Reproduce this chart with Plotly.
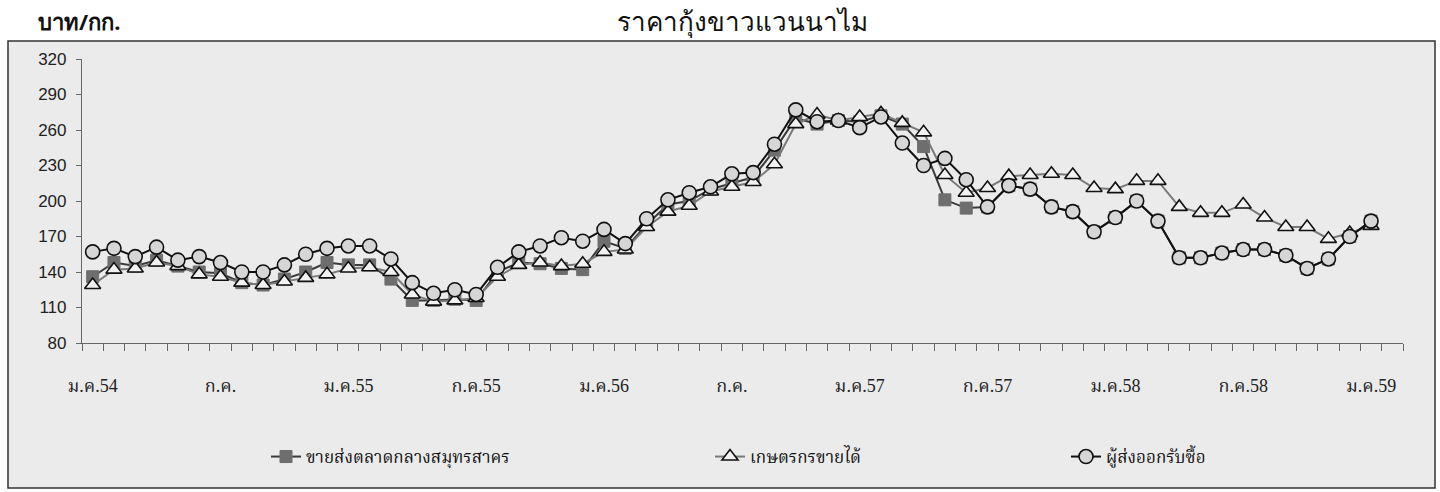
import plotly.graph_objects as go

# ---------------- data ----------------
thai_months = ["ม.ค.", "ก.พ.", "มี.ค.", "เม.ย.", "พ.ค.", "มิ.ย.",
               "ก.ค.", "ส.ค.", "ก.ย.", "ต.ค.", "พ.ย.", "ธ.ค."]
years = ["54", "55", "56", "57", "58", "59"]
months = [m + y for y in years for m in thai_months][:62]  # ม.ค.54 .. ก.พ.59

tick_labels = ["ม.ค.54", "ก.ค.", "ม.ค.55", "ก.ค.55", "ม.ค.56", "ก.ค.",
               "ม.ค.57", "ก.ค.57", "ม.ค.58", "ก.ค.58", "ม.ค.59"]

wholesale = [136, 148, 145, 150, 145, 140, 139, 131, 129, 134, 140, 148,
             146, 146, 134, 116, 116, 117, 116, 140, 148, 147, 143, 142,
             166, 160, 180, 197, 200, 210, 215, 220, 243, 270, 265, 268,
             267, 272, 265, 246, 201, 194, 195, 213, 210, 195, 191, 174,
             186, 200, 183, 152, 152, 156, 159, 159, 154, 143, 151, 170,
             183]

farmer = [129, 142, 143, 148, 145, 138, 136, 131, 129, 132, 135, 138,
          143, 144, 140, 121, 115, 116, 118, 136, 146, 148, 145, 147,
          157, 159, 178, 191, 196, 208, 212, 216, 231, 265, 273, 268,
          271, 274, 266, 258, 222, 207, 211, 221, 222, 223, 222, 211,
          210, 217, 217, 195, 190, 190, 197, 186, 178, 178, 168, 173,
          179]

exporter = [157, 160, 153, 161, 150, 153, 148, 140, 140, 146, 155, 160,
            162, 162, 151, 131, 122, 125, 121, 144, 157, 162, 169, 166,
            176, 164, 185, 201, 207, 212, 223, 224, 248, 277, 267, 268,
            262, 271, 249, 230, 236, 218, 195, 213, 210, 195, 191, 174,
            186, 200, 183, 152, 152, 156, 159, 159, 154, 143, 151, 170,
            183]

series_names = ["ขายส่งตลาดกลางสมุทรสาคร", "เกษตรกรขายได้", "ผู้ส่งออกรับซื้อ"]
y_ticks = [80, 110, 140, 170, 200, 230, 260, 290, 320]

# ---------------- figure ----------------
thai_font = "Liberation Serif, Noto Serif Thai, Tlwg Typo, serif"
x_data = months[:len(exporter)]

fig = go.Figure()
fig.add_trace(go.Scatter(
    x=x_data, y=wholesale, name=series_names[0], mode="lines+markers",
    line=dict(color="#3a3a3a", width=2),
    marker=dict(symbol="square", size=12, color="#6e6e6e",
                line=dict(color="#6e6e6e", width=1)),
    legend="legend"))
fig.add_trace(go.Scatter(
    x=x_data, y=farmer, name=series_names[1], mode="lines+markers",
    line=dict(color="#7a7a7a", width=2),
    marker=dict(symbol="triangle-up", size=14, color="#f2f2f2",
                line=dict(color="#111111", width=1.6)),
    legend="legend2"))
fig.add_trace(go.Scatter(
    x=x_data, y=exporter, name=series_names[2], mode="lines+markers",
    line=dict(color="#111111", width=2),
    marker=dict(symbol="circle", size=14, color="#d6d6d6",
                line=dict(color="#111111", width=1.6)),
    legend="legend3"))

tickvals = months
ticktext = ["" for _ in months]
label_positions = list(range(0, 61, 6))
for k, pos in enumerate(label_positions):
    ticktext[pos] = tick_labels[k]

PW, PH, L, T = 1321, 284, 82, 59


def px(x):
    return (x - L) / PW


def py(y):
    return (T + PH - y) / PH


legend_common = dict(orientation="h", yanchor="middle", xanchor="left",
                     bgcolor="rgba(0,0,0,0)",
                     font=dict(family=thai_font, size=17, color="#111"))

fig.update_layout(
    width=1440, height=492,
    margin=dict(l=82, r=37, t=59, b=149),
    paper_bgcolor="#ffffff",
    plot_bgcolor="rgba(0,0,0,0)",
    showlegend=True,
    xaxis=dict(type="category", categoryorder="array", categoryarray=months,
               range=[-0.5, 61.5], tickmode="array", tickvals=tickvals,
               ticktext=ticktext, tickson="boundaries", ticks="outside",
               ticklen=7, tickcolor="#666", showline=True, linecolor="#666",
               linewidth=1.2, showgrid=False, zeroline=False,
               tickangle=0, ticklabelstandoff=26,
               tickfont=dict(family=thai_font, size=18, color="#222")),
    yaxis=dict(range=[80, 320], tickmode="array", tickvals=y_ticks,
               ticks="outside", ticklen=5, tickcolor="#666",
               showline=True, linecolor="#666", linewidth=1.2,
               showgrid=False, zeroline=False, ticklabelstandoff=6,
               tickfont=dict(family="Liberation Sans, Arial, sans-serif",
                             size=17, color="#222")),
    legend=dict(x=px(266), y=py(457), **legend_common),
    legend2=dict(x=px(710), y=py(457), **legend_common),
    legend3=dict(x=px(1066), y=py(457), **legend_common),
    shapes=[dict(type="rect", xref="paper", yref="paper", layer="below",
                 x0=px(8), x1=px(1435), y0=py(488), y1=py(41),
                 fillcolor="#ebebeb", line=dict(color="#333", width=1.5))],
    annotations=[
        dict(text="ราคากุ้งขาวแวนนาไม", xref="paper", yref="paper",
             x=px(742), y=py(21), xanchor="center",
             yanchor="middle", showarrow=False,
             font=dict(family="Noto Sans, Liberation Sans, sans-serif",
                       size=26, color="#111")),
        dict(text="<b>บาท/กก.</b>", xref="paper", yref="paper",
             x=px(36), y=py(21), xanchor="left",
             yanchor="middle", showarrow=False,
             font=dict(family="Noto Sans, Liberation Sans, sans-serif",
                       size=22, color="#111")),
    ],
)

fig.write_html("out.html",
               config={"displayModeBar": False},
               post_script="document.body.style.margin='0';"
                           "document.body.style.padding='0';")
